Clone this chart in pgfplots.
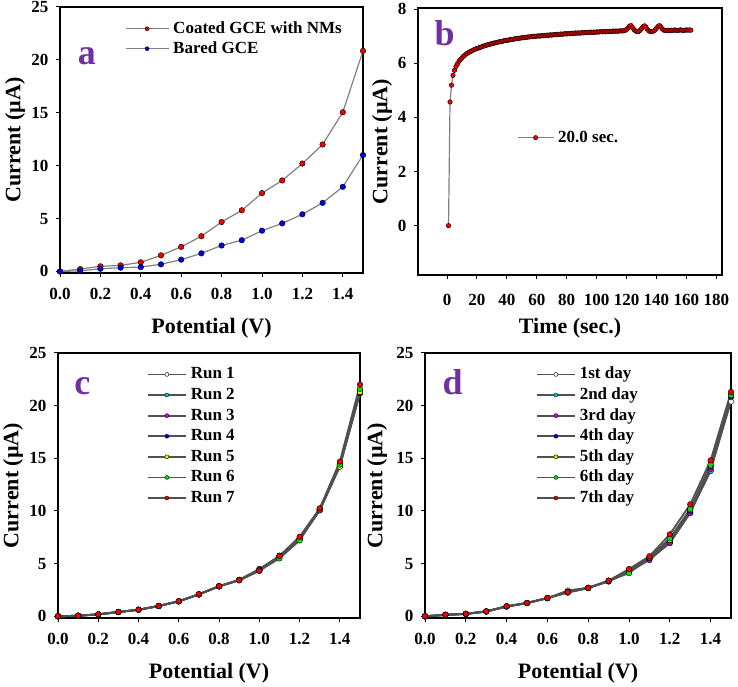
\documentclass[border=0pt]{standalone}
\usepackage{pgfplots}
\pgfplotsset{compat=1.18}
\usepackage{fontspec}
\setmainfont{Liberation Serif}
\definecolor{lblpurple}{RGB}{112,48,160}
\definecolor{lc}{RGB}{128,128,128}
\definecolor{lcd}{RGB}{80,80,80}
\definecolor{mycyan}{RGB}{0,210,210}
\definecolor{mymag}{RGB}{230,0,230}
\definecolor{myblue}{RGB}{0,0,230}
\definecolor{myyel}{RGB}{240,240,0}
\definecolor{mygreen}{RGB}{0,230,0}
\definecolor{myred}{RGB}{240,0,0}

\pgfplotsset{
  myaxis/.style={
    scale only axis,
    axis line style={line width=1.6bp},
    tick style={line width=1bp, black},
    major tick length=4bp,
    tick align=outside,
    tick pos=left,
    /pgf/number format/assume math mode=true,
    ticklabel style={font=\fontsize{17bp}{20bp}\selectfont\bfseries},
    xticklabel style={yshift=-8bp},
    yticklabel style={xshift=-4bp},
    every axis x label/.style={at={(rel axis cs:0.5,0)}, anchor=center, yshift=-55bp,
      font=\fontsize{22bp}{26bp}\selectfont\bfseries},
    every axis y label/.style={at={(rel axis cs:0,0.5)}, anchor=center, xshift=-#1bp, rotate=90,
      font=\fontsize{22bp}{26bp}\selectfont\bfseries},
    legend style={draw=none, fill=none, inner sep=0pt,
      font=\fontsize{17bp}{20bp}\selectfont\bfseries,
      nodes={inner sep=1bp, text height=12bp, text depth=3bp},
      row sep=3bp,
      /tikz/every odd column/.append style={column sep=3bp}},
    legend cell align=left,
  },
  myaxis/.default=45,
  mylegA/.style={legend image code/.code={%
    \draw[mark repeat=2, mark phase=2, #1, mark size=2bp] plot coordinates {(0bp,0bp) (21.5bp,0bp) (43bp,0bp)};}},
  mylegC/.style={legend image code/.code={%
    \draw[mark repeat=2, mark phase=2, #1, mark size=2bp] plot coordinates {(0bp,0bp) (19bp,0bp) (38bp,0bp)};}},
  mylegB/.style={legend image code/.code={%
    \draw[mark repeat=2, mark phase=2, #1, mark size=2.2bp] plot coordinates {(0bp,0bp) (18bp,0bp) (36bp,0bp)};}},
  runstyle/.style={lcd, line width=1.8bp, mark=*, mark size=2.8bp, mark options={fill=#1, draw=black, line width=0.4bp}},
}

\begin{document}
\begin{tikzpicture}
\useasboundingbox (0,0) rectangle (738bp,687bp);

% ---------------- panel a ----------------
\begin{axis}[myaxis=45, at={(60bp,414bp)}, anchor=south west,
  width=303bp, height=266bp,
  xmin=0, xmax=1.5, ymin=-0.15, ymax=25,
  xtick={0,0.2,...,1.4}, ytick={0,5,...,25},
  xticklabel style={/pgf/number format/.cd, fixed, fixed zerofill, precision=1},
  xlabel={Potential (V)}, ylabel={Current (\textmu A)},
  mylegA,
  legend style={at={(rel axis cs:0.214,0.951)}, anchor=north west},
  clip=false]
\addplot[lc, line width=1.2bp, mark=*, mark size=2.8bp, mark options={fill=myred, draw=black, line width=0.4bp}]
  coordinates {(0,0) (0.1,0.22) (0.2,0.48) (0.3,0.57) (0.4,0.86) (0.5,1.52) (0.6,2.32) (0.7,3.33)
  (0.8,4.67) (0.9,5.78) (1.0,7.4) (1.1,8.6) (1.2,10.2) (1.3,12.0) (1.4,15.05) (1.5,20.85)};
\addlegendentry{Coated GCE with NMs}
\addplot[lc, line width=1.2bp, mark=*, mark size=2.8bp, mark options={fill=myblue, draw=black, line width=0.4bp}]
  coordinates {(0,0) (0.1,0.05) (0.2,0.25) (0.3,0.35) (0.4,0.41) (0.5,0.67) (0.6,1.11) (0.7,1.71)
  (0.8,2.45) (0.9,2.95) (1.0,3.85) (1.1,4.54) (1.2,5.4) (1.3,6.48) (1.4,8.0) (1.5,11.0)};
\addlegendentry{Bared GCE}
\node[text=lblpurple, font=\fontsize{36bp}{40bp}\selectfont\bfseries] at (rel axis cs:0.089,0.816) {a};
\end{axis}

% ---------------- panel b ----------------
\begin{axis}[myaxis=36, at={(418bp,412bp)}, anchor=south west,
  width=304bp, height=267bp,
  xmin=-19.4, xmax=183.8, ymin=-1.82, ymax=8.04,
  xtick={0,20,...,180}, ytick={0,2,4,6,8},
  xlabel={Time (sec.)}, ylabel={Current (\textmu A)},
  every axis x label/.append style={yshift=2bp},
  xticklabel style={yshift=-4bp},
  mylegB,
  legend style={at={(rel axis cs:0.325,0.547)}, anchor=north west},
  clip=false]
\addplot[lc, line width=1.2bp, mark=*, mark size=2.3bp, mark options={fill=myred, draw=black, line width=0.4bp}]
  coordinates {
(1,0) (2,4.57) (3,5.19) (4,5.55) (5,5.74) (6,5.88) (7,5.98) (8,6.07) (9,6.14) (10,6.20)
(11,6.26) (12,6.30) (13,6.35) (14,6.38) (15,6.42) (16,6.44) (17,6.47) (18,6.50) (19,6.52) (20,6.55)
(21,6.56) (22,6.59) (23,6.60) (24,6.63) (25,6.64) (26,6.66) (27,6.68) (28,6.69) (29,6.71) (30,6.72)
(31,6.74) (32,6.75) (33,6.76) (34,6.78) (35,6.79) (36,6.80) (37,6.81) (38,6.83) (39,6.84) (40,6.85)
(41,6.85) (42,6.87) (43,6.88) (44,6.88) (45,6.90) (46,6.90) (47,6.92) (48,6.92) (49,6.93) (50,6.94)
(51,6.94) (52,6.96) (53,6.95) (54,6.97) (55,6.97) (56,6.98) (57,6.98) (58,7.00) (59,6.99) (60,7.00)
(61,7.01) (62,7.00) (63,7.02) (64,7.01) (65,7.03) (66,7.02) (67,7.04) (68,7.03) (69,7.05) (70,7.04)
(71,7.05) (72,7.06) (73,7.05) (74,7.07) (75,7.06) (76,7.08) (77,7.07) (78,7.08) (79,7.09) (80,7.08)
(81,7.10) (82,7.09) (83,7.10) (84,7.11) (85,7.10) (86,7.12) (87,7.11) (88,7.12) (89,7.11) (90,7.13)
(91,7.12) (92,7.13) (93,7.14) (94,7.13) (95,7.14) (96,7.15) (97,7.14) (98,7.15) (99,7.14) (100,7.16)
(101,7.15) (102,7.16) (103,7.17) (104,7.16) (105,7.17) (106,7.16) (107,7.18) (108,7.17) (109,7.18) (110,7.17)
(111,7.19) (112,7.18) (113,7.19) (114,7.18) (115,7.19) (116,7.20) (117,7.19) (118,7.20) (119,7.21) (120,7.25)
(121,7.31) (122,7.37) (123,7.39) (124,7.31) (125,7.24) (126,7.19) (127,7.17) (128,7.17) (129,7.21) (130,7.28)
(131,7.35) (132,7.38) (133,7.33) (134,7.25) (135,7.19) (136,7.17) (137,7.17) (138,7.19) (139,7.22) (140,7.29)
(141,7.36) (142,7.39) (143,7.34) (144,7.26) (145,7.22) (146,7.21) (147,7.20) (148,7.22) (149,7.21) (150,7.22)
(151,7.21) (152,7.23) (153,7.22) (154,7.21) (155,7.22) (156,7.23) (157,7.22) (158,7.21) (159,7.22) (160,7.23)
(161,7.22) (162,7.23) (163,7.22)};
\addlegendentry{20.0 sec.}
\node[text=lblpurple, font=\fontsize{36bp}{40bp}\selectfont\bfseries] at (rel axis cs:0.088,0.904) {b};
\end{axis}

% ---------------- panel c ----------------
\begin{axis}[myaxis=45, at={(58bp,69bp)}, anchor=south west,
  width=302bp, height=265bp,
  xmin=0, xmax=1.5, ymin=-0.16, ymax=25,
  xtick={0,0.2,...,1.4}, ytick={0,5,...,25},
  xticklabel style={/pgf/number format/.cd, fixed, fixed zerofill, precision=1},
  xlabel={Potential (V)}, ylabel={Current (\textmu A)},
  mylegC,
  legend style={at={(rel axis cs:0.294,0.952)}, anchor=north west, row sep=3.6bp},
  clip=false]
\addplot[runstyle=white] coordinates {(0,0) (0.1,0.05) (0.2,0.18) (0.3,0.40) (0.4,0.62) (0.5,0.98) (0.6,1.42) (0.7,2.08) (0.8,2.84) (0.9,3.45) (1.0,4.35) (1.1,5.70) (1.2,7.30) (1.3,10.05) (1.4,14.30) (1.5,21.2)};
\addlegendentry{Run 1}
\addplot[runstyle=mycyan] coordinates {(0,0) (0.1,0.06) (0.2,0.19) (0.3,0.41) (0.4,0.63) (0.5,0.97) (0.6,1.43) (0.7,2.10) (0.8,2.85) (0.9,3.42) (1.0,4.38) (1.1,5.68) (1.2,7.35) (1.3,10.10) (1.4,14.40) (1.5,21.3)};
\addlegendentry{Run 2}
\addplot[runstyle=mymag] coordinates {(0,0) (0.1,0.05) (0.2,0.18) (0.3,0.40) (0.4,0.61) (0.5,0.99) (0.6,1.44) (0.7,2.07) (0.8,2.86) (0.9,3.47) (1.0,4.50) (1.1,5.72) (1.2,7.32) (1.3,10.15) (1.4,14.35) (1.5,21.4)};
\addlegendentry{Run 3}
\addplot[runstyle=myblue] coordinates {(0,0) (0.1,0.06) (0.2,0.19) (0.3,0.42) (0.4,0.63) (0.5,0.98) (0.6,1.42) (0.7,2.09) (0.8,2.85) (0.9,3.44) (1.0,4.40) (1.1,5.75) (1.2,7.38) (1.3,10.12) (1.4,14.45) (1.5,21.2)};
\addlegendentry{Run 4}
\addplot[runstyle=myyel] coordinates {(0,0) (0.1,0.05) (0.2,0.18) (0.3,0.41) (0.4,0.62) (0.5,0.97) (0.6,1.43) (0.7,2.08) (0.8,2.87) (0.9,3.43) (1.0,4.36) (1.1,5.71) (1.2,7.33) (1.3,10.08) (1.4,14.20) (1.5,21.3)};
\addlegendentry{Run 5}
\addplot[runstyle=mygreen] coordinates {(0,0) (0.1,0.06) (0.2,0.19) (0.3,0.41) (0.4,0.62) (0.5,0.98) (0.6,1.42) (0.7,2.09) (0.8,2.85) (0.9,3.45) (1.0,4.33) (1.1,5.50) (1.2,7.20) (1.3,10.15) (1.4,14.40) (1.5,21.6)};
\addlegendentry{Run 6}
\addplot[runstyle=myred] coordinates {(0,0) (0.1,0.06) (0.2,0.19) (0.3,0.41) (0.4,0.63) (0.5,0.98) (0.6,1.43) (0.7,2.09) (0.8,2.86) (0.9,3.43) (1.0,4.31) (1.1,5.74) (1.2,7.55) (1.3,10.25) (1.4,14.69) (1.5,21.99)};
\addlegendentry{Run 7}
\node[text=lblpurple, font=\fontsize{36bp}{40bp}\selectfont\bfseries] at (rel axis cs:0.081,0.874) {c};
\end{axis}

% ---------------- panel d ----------------
\begin{axis}[myaxis=48, at={(425bp,69bp)}, anchor=south west,
  width=306bp, height=265bp,
  xmin=0, xmax=1.5, ymin=-0.16, ymax=25,
  xtick={0,0.2,...,1.4}, ytick={0,5,...,25},
  xticklabel style={/pgf/number format/.cd, fixed, fixed zerofill, precision=1},
  xlabel={Potential (V)}, ylabel={Current (\textmu A)},
  mylegC,
  legend style={at={(rel axis cs:0.362,0.952)}, anchor=north west, row sep=3.6bp},
  clip=false]
\addplot[runstyle=white] coordinates {(0,0) (0.1,0.12) (0.2,0.22) (0.3,0.45) (0.4,0.92) (0.5,1.25) (0.6,1.72) (0.7,2.45) (0.8,2.72) (0.9,3.30) (1.0,4.30) (1.1,5.45) (1.2,6.95) (1.3,9.85) (1.4,13.9) (1.5,20.4)};
\addlegendentry{1st day}
\addplot[runstyle=mycyan] coordinates {(0,0) (0.1,0.14) (0.2,0.23) (0.3,0.46) (0.4,0.93) (0.5,1.26) (0.6,1.73) (0.7,2.35) (0.8,2.70) (0.9,3.32) (1.0,4.20) (1.1,5.40) (1.2,7.00) (1.3,9.90) (1.4,13.8) (1.5,20.8)};
\addlegendentry{2nd day}
\addplot[runstyle=mymag] coordinates {(0,0) (0.1,0.13) (0.2,0.22) (0.3,0.45) (0.4,0.94) (0.5,1.25) (0.6,1.72) (0.7,2.30) (0.8,2.68) (0.9,3.35) (1.0,4.25) (1.1,5.35) (1.2,7.00) (1.3,9.80) (1.4,14.0) (1.5,20.9)};
\addlegendentry{3rd day}
\addplot[runstyle=myblue] coordinates {(0,0) (0.1,0.15) (0.2,0.24) (0.3,0.46) (0.4,0.95) (0.5,1.27) (0.6,1.74) (0.7,2.32) (0.8,2.70) (0.9,3.36) (1.0,4.30) (1.1,5.50) (1.2,7.20) (1.3,10.0) (1.4,14.2) (1.5,20.9)};
\addlegendentry{4th day}
\addplot[runstyle=myyel] coordinates {(0,0) (0.1,0.14) (0.2,0.23) (0.3,0.47) (0.4,0.94) (0.5,1.26) (0.6,1.73) (0.7,2.30) (0.8,2.69) (0.9,3.38) (1.0,4.35) (1.1,5.55) (1.2,7.25) (1.3,10.1) (1.4,14.3) (1.5,21.0)};
\addlegendentry{5th day}
\addplot[runstyle=mygreen] coordinates {(0,0) (0.1,0.15) (0.2,0.24) (0.3,0.46) (0.4,0.95) (0.5,1.27) (0.6,1.74) (0.7,2.25) (0.8,2.68) (0.9,3.38) (1.0,4.10) (1.1,5.60) (1.2,7.40) (1.3,10.2) (1.4,14.4) (1.5,21.0)};
\addlegendentry{6th day}
\addplot[runstyle=myred] coordinates {(0,0) (0.1,0.16) (0.2,0.25) (0.3,0.47) (0.4,0.95) (0.5,1.27) (0.6,1.74) (0.7,2.28) (0.8,2.69) (0.9,3.39) (1.0,4.49) (1.1,5.70) (1.2,7.78) (1.3,10.63) (1.4,14.8) (1.5,21.3)};
\addlegendentry{7th day}
\node[text=lblpurple, font=\fontsize{36bp}{40bp}\selectfont\bfseries] at (rel axis cs:0.09,0.888) {d};
\end{axis}
\end{tikzpicture}
\end{document}
